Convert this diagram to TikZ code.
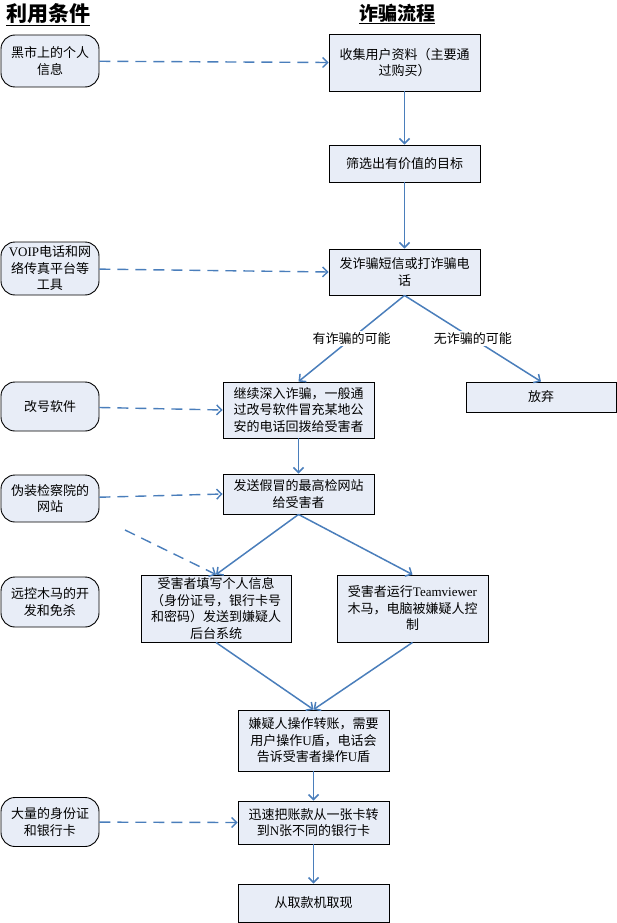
\documentclass[tikz,border=0pt]{standalone}
\usepackage{fontspec}
\setmainfont{Noto Sans CJK SC}
\newfontfamily\latin{Liberation Serif}
\usetikzlibrary{arrows,arrows.meta}

\definecolor{boxfill}{RGB}{232,237,247}
\definecolor{linkblue}{RGB}{74,126,187}

\begin{document}
\begin{tikzpicture}[x=1pt,y=-1pt,
  >={Straight Barb[length=5pt,width=10pt]},
  every node/.style={font=\fontsize{13}{16.5}\selectfont,inner sep=0pt,align=center},
  res/.style={draw=black,fill=boxfill,rounded corners=14pt,line width=0.9pt,minimum width=98pt},
  flow/.style={draw=black,fill=boxfill,line width=0.9pt,minimum width=151pt},
  go/.style={color=linkblue,line width=1.5pt,->},
  uses/.style={color=linkblue,line width=1.4pt,dash pattern=on 11pt off 7pt,->},
  branch/.style={fill=white,text=black,inner sep=1.5pt},
  heading/.style={font=\fontsize{21}{21}\selectfont\bfseries}]
\useasboundingbox (0,0) rectangle (617,923);

% titles
\node[heading] (resT) at (48,15) {\underline{利用条件}};
\node[heading,font=\fontsize{19}{19}\selectfont\bfseries] (flowT) at (397,14) {\underline{诈骗流程}};

% resources on the left
\node[res,minimum height=52pt] (src1) at (50,61) {黑市上的个人\\信息};
\node[res,minimum height=53pt] (src2) at (50,268.5) {{\latin VOIP}电话和网\\络传真平台等\\工具};
\node[res,minimum height=49pt] (src3) at (50,406.5) {改号软件};
\node[res,minimum height=47pt] (src4) at (50,498.5) {伪装检察院的\\网站};
\node[res,minimum height=50pt] (src5) at (50,602) {远控木马的开\\发和免杀};
\node[res,minimum height=49pt] (src6) at (50,822) {大量的身份证\\和银行卡};

% the fraud steps
\node[flow,minimum height=57pt] (s1) at (404.5,62.5) {收集用户资料（主要通\\过购买）};
\node[flow,minimum height=37pt] (s2) at (404.5,163.5) {筛选出有价值的目标};
\node[flow,minimum height=46pt] (s3) at (404.5,272) {发诈骗短信或打诈骗电\\话};
\node[flow,minimum height=56pt] (s4) at (298.5,410) {继续深入诈骗，一般通\\过改号软件冒充某地公\\安的电话回拨给受害者};
\node[flow,minimum width=150pt,minimum height=30pt] (quit) at (541,397) {放弃};
\node[flow,minimum height=40pt] (s5) at (298.5,494) {发送假冒的最高检网站\\给受害者};
\node[flow,minimum width=150pt,minimum height=67pt] (s6) at (216,608.5) {受害者填写个人信息\\（身份证号，银行卡号\\和密码）发送到嫌疑人\\后台系统};
\node[flow,minimum height=67pt] (s7) at (412.5,608.5) {受害者运行{\latin Teamviewer}\\木马，电脑被嫌疑人控\\制};
\node[flow,minimum height=61pt] (s8) at (313.5,740.5) {嫌疑人操作转账，需要\\用户操作{\latin U}盾，电话会\\告诉受害者操作{\latin U}盾};
\node[flow,minimum height=43pt] (s9) at (313.5,822.5) {迅速把账款从一张卡转\\到{\latin N}张不同的银行卡};
\node[flow,minimum height=38pt] (s10) at (313.5,903) {从取款机取现};
\coordinate (hint) at (125,530);

% flow
\draw[go] (s1) -- (s2);
\draw[go] (s2) -- (s3);
\draw[go] (s3.south) -- node[branch]{有诈骗的可能} (s4.north);
\draw[go] (s3.south) -- node[branch]{无诈骗的可能} (quit.north);
\draw[go] (s4) -- (s5);
\draw[go] (s5.south) -- (s6.north);
\draw[go] (s5.south) -- (s7.north);
\draw[go] (s6.south) -- (s8.north);
\draw[go] (s7.south) -- (s8.north);
\draw[go] (s8) -- (s9);
\draw[go] (s9) -- (s10);

% what each step relies on
\draw[uses] (src1) -- (s1.west);
\draw[uses] (src2) -- (s3.west);
\draw[uses] (src3) -- (s4.west);
\draw[uses] (src4) -- (s5.west);
\draw[uses] (hint) -- (s6.north);
\draw[uses] (src6) -- (s9.west);
\end{tikzpicture}
\end{document}
